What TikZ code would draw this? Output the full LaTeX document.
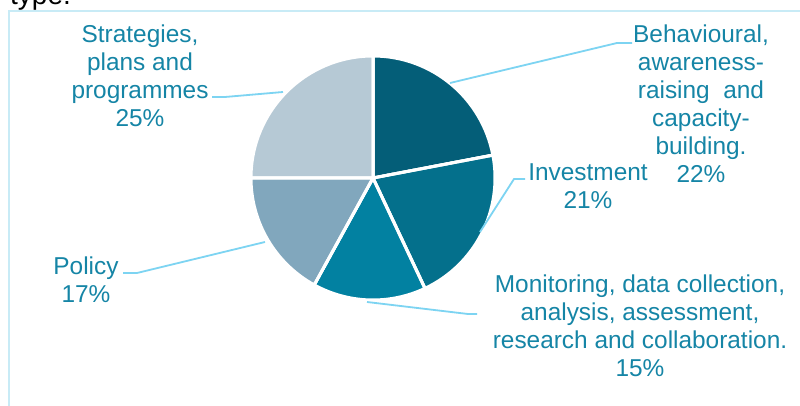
\documentclass[tikz,border=0pt]{standalone}
\usepackage{fontspec}
\setmainfont{Liberation Sans}
\definecolor{lbl}{HTML}{1585A6}
\definecolor{leader}{HTML}{7DD4F2}
\definecolor{framec}{HTML}{C8EBF6}
\definecolor{cBeh}{HTML}{045E78}
\definecolor{cInv}{HTML}{04708C}
\definecolor{cMon}{HTML}{0281A1}
\definecolor{cPol}{HTML}{81A7BD}
\definecolor{cStr}{HTML}{B6C9D5}
\tikzset{
  lab/.style={text=lbl, align=center, inner sep=0pt, font=\fontsize{24.4}{28}\selectfont},
  slice/.style={draw=white, line width=3pt, line join=round},
  lead/.style={draw=leader, line width=1.8pt}
}
\begin{document}
\begin{tikzpicture}[x=1pt,y=1pt]
\useasboundingbox (0,0) rectangle (800,406);
\clip (0,0) rectangle (800,406);
\fill[white] (0,0) rectangle (800,406);
\draw[framec, line width=2.2pt] (9,0) -- (9,395) -- (801,395);
\node[anchor=base west, inner sep=0pt, font=\fontsize{28}{32}\selectfont] (title) at (10,401.5) {type.};

\coordinate (C) at (373,228);
\def\R{122}
\fill[cBeh, slice] (C) -- ++(90:\R) arc[start angle=90, end angle=10.8, radius=\R] -- cycle;
\fill[cInv, slice] (C) -- ++(10.8:\R) arc[start angle=10.8, end angle=-64.8, radius=\R] -- cycle;
\fill[cMon, slice] (C) -- ++(-64.8:\R) arc[start angle=-64.8, end angle=-118.8, radius=\R] -- cycle;
\fill[cPol, slice] (C) -- ++(-118.8:\R) arc[start angle=-118.8, end angle=-180, radius=\R] -- cycle;
\fill[cStr, slice] (C) -- ++(-180:\R) arc[start angle=-180, end angle=-270, radius=\R] -- cycle;
\draw[slice] (C) -- ++(90:\R) (C) -- ++(10.8:\R) (C) -- ++(-64.8:\R) (C) -- ++(-118.8:\R) (C) -- ++(180:\R);

\node[lab] (beh) at (701,302) {Behavioural,\\awareness-\\raising\ \ and\\capacity-\\building.\\22\%};
\node[lab] (inv) at (588,220) {Investment\\21\%};
\node[lab] (mon) at (640,80.5) {Monitoring, data collection,\\analysis, assessment,\\research and collaboration.\\15\%};
\node[lab] (pol) at (86,126.5) {Policy\\17\%};
\node[lab] (str) at (140,330) {Strategies,\\plans and\\programmes\\25\%};

\coordinate (pBeh) at (450,323);
\coordinate (eBeh) at (632,363);
\coordinate (pInv) at (480,174);
\coordinate (eInv) at (525,227);
\coordinate (pMon) at (367,104);
\coordinate (eMon) at (477,92);
\coordinate (pPol) at (265,164);
\coordinate (ePol) at (123,133);
\coordinate (pStr) at (283,314);
\coordinate (eStr) at (212,309);
\draw[lead] (pBeh) -- (617,363) -- (eBeh);
\draw[lead] (pInv) -- (514,227) -- (eInv);
\draw[lead] (pMon) -- (468,92) -- (eMon);
\draw[lead] (pPol) -- (137,133) -- (ePol);
\draw[lead] (pStr) -- (225,309) -- (eStr);
\end{tikzpicture}
\end{document}
